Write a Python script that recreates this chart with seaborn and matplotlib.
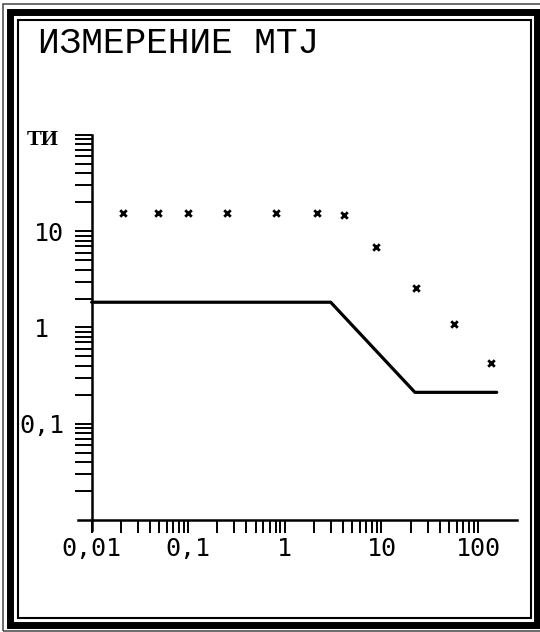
import matplotlib
matplotlib.use("Agg")
import matplotlib.pyplot as plt
import matplotlib.ticker as mticker
from matplotlib.patches import Rectangle
import seaborn as sns

# ---- data ----
title = "ИЗМЕРЕНИЕ MTJ"
unit_label = "ТИ"

period = [0.021, 0.049, 0.10, 0.25, 0.81, 2.16, 4.1, 8.8, 22.8, 56, 135]
measured = [15.6, 15.6, 15.6, 15.6, 15.6, 15.6, 14.6, 6.8, 2.55, 1.08, 0.425]

model_period = [0.01, 2.98, 22.2, 156]
model_value = [1.83, 1.83, 0.212, 0.212]

x_ticks = [0.01, 0.1, 1, 10, 100]
x_tick_labels = ["0,01", "0,1", "1", "10", "100"]
y_ticks = [0.1, 1, 10, 100]
y_tick_labels = ["0,1", "1 ", "10", ""]

# ---- style ----
sns.set_theme(style="white")
plt.rcParams['font.family'] = ['DejaVu Sans Mono', 'DejaVu Sans']

W, H = 540, 632
fig = plt.figure(figsize=(W / 100, H / 100), dpi=100)
fig.patch.set_facecolor("white")


def fx(px):
    return px / W


def fy(py):
    return 1 - py / H


ax = fig.add_axes([fx(78), fy(530), 439 / W, 395 / H])
ax.set_facecolor("white")
ax.set_xscale("log")
ax.set_yscale("log")

sns.lineplot(x=model_period, y=model_value, color="black", linewidth=2.3,
             sort=False, estimator=None, ax=ax)
sns.scatterplot(x=period, y=measured, marker="x", s=22, color="black",
                linewidth=2.0, ax=ax, zorder=3)

ax.set_xlim(0.00722, 253)
ax.set_ylim(0.00787, 100)

for side in ["top", "right"]:
    ax.spines[side].set_visible(False)
for side in ["left", "bottom"]:
    ax.spines[side].set_color("black")
    ax.spines[side].set_linewidth(1.8)
ax.spines["left"].set_position(("data", 0.01))
ax.spines["bottom"].set_position(("data", 0.01))

ax.xaxis.set_major_locator(mticker.FixedLocator(x_ticks))
ax.xaxis.set_major_formatter(mticker.FixedFormatter(x_tick_labels))
ax.yaxis.set_major_locator(mticker.FixedLocator(y_ticks))
ax.yaxis.set_major_formatter(mticker.FixedFormatter(y_tick_labels))

minor = [m * 10.0 ** e for e in range(-2, 2) for m in range(2, 10)]
ax.xaxis.set_minor_locator(mticker.FixedLocator(minor))
ax.yaxis.set_minor_locator(mticker.FixedLocator(minor))
ax.xaxis.set_minor_formatter(mticker.NullFormatter())
ax.yaxis.set_minor_formatter(mticker.NullFormatter())

ax.tick_params(axis="x", which="both", direction="out", length=9.4, width=1.4,
               color="black", bottom=True, labelsize=18, pad=3, labelcolor="black")
ax.tick_params(axis="y", which="both", direction="out", length=12, width=1.4,
               color="black", left=True, labelsize=18, pad=8, labelcolor="black")
ax.set_xlabel("")
ax.set_ylabel("")
ax.grid(False)

# title and unit label
fig.text(fx(38), fy(53), title, fontsize=26, family=["Liberation Mono", "DejaVu Sans Mono"],
         ha="left", va="baseline", color="black")
fig.text(fx(27), fy(140), unit_label, fontsize=16, fontweight="bold",
         family=["Liberation Serif", "DejaVu Serif"], ha="left", va="center", color="black")

# decorative triple frame
def frame(x0, y0, x1, y1, lw, color="black"):
    r = Rectangle((fx(x0), fy(y1)), fx(x1) - fx(x0), fy(y0) - fy(y1),
                  transform=fig.transFigure, fill=False, edgecolor=color,
                  linewidth=lw, zorder=10)
    fig.patches.append(r)

frame(3, 3.5, 560, 630.5, 1.1, color="#444444")
frame(10, 11.5, 537, 624.5, 5.0)
frame(18, 20, 531, 618, 1.5)

fig.savefig("out.png", dpi=100, facecolor="white")
